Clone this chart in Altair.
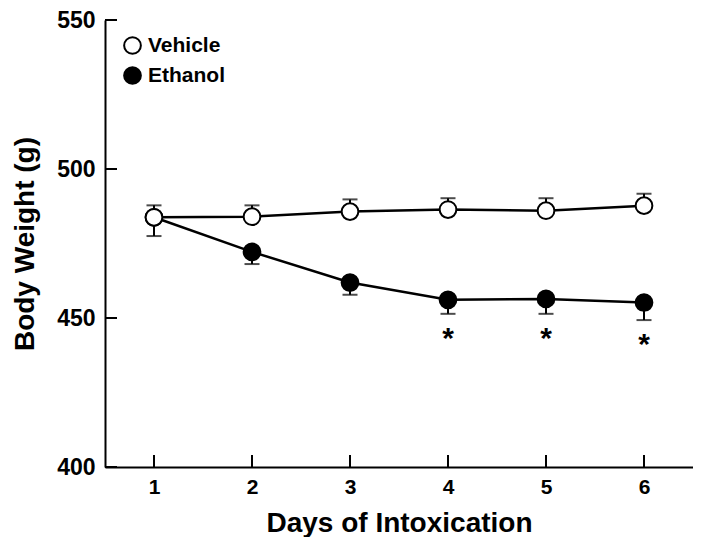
import altair as alt
import pandas as pd

days = [1, 2, 3, 4, 5, 6]
vehicle_mean = [483.8, 484.0, 485.7, 486.4, 486.0, 487.7]
vehicle_err_end = [487.8, 487.8, 489.8, 490.2, 490.2, 491.7]
ethanol_mean = [483.8, 472.2, 461.9, 456.1, 456.4, 455.2]
ethanol_err_end = [477.5, 468.1, 457.8, 451.4, 451.4, 449.3]
star_days = [4, 5, 6]
star_y = [445.0, 445.0, 442.8]
y_ticks = [400, 450, 500, 550]
groups = ["Vehicle", "Ethanol"]

rows = []
for d, m, e in zip(days, ethanol_mean, ethanol_err_end):
    rows.append({"day": d, "mean": m, "err": e, "group": "Ethanol"})
for d, m, e in zip(days, vehicle_mean, vehicle_err_end):
    rows.append({"day": d, "mean": m, "err": e, "group": "Vehicle"})
df = pd.DataFrame(rows)
stars = pd.DataFrame({"day": star_days, "y": star_y, "t": ["*"] * len(star_days)})
xt = pd.DataFrame({"day": days})
yt = pd.DataFrame({"v": y_ticks})

FONT = "Liberation Sans"
W, H = 588, 447

xscale = alt.Scale(domain=[0.5, 6.5], nice=False, zero=False)
yscale = alt.Scale(domain=[400, 550], nice=False, zero=False)

xenc = alt.X("day:Q", scale=xscale,
             axis=alt.Axis(values=days, format="d", title="Days of Intoxication",
                           grid=False, ticks=False, domainColor="black", domainWidth=2,
                           labelFont=FONT, labelFontSize=21, labelFontWeight="bold",
                           labelColor="black", labelPadding=9,
                           titleFont=FONT, titleFontSize=28, titleFontWeight="bold",
                           titleColor="black", titlePadding=12))
yenc = alt.Y("mean:Q", scale=yscale,
             axis=alt.Axis(values=y_ticks, title="Body Weight (g)",
                           grid=False, ticks=False, domainColor="black", domainWidth=2,
                           labelFont=FONT, labelFontSize=23, labelFontWeight="bold",
                           labelColor="black", labelPadding=10,
                           titleFont=FONT, titleFontSize=28, titleFontWeight="bold",
                           titleColor="black", titlePadding=17))

base = alt.Chart(df)

lines = base.mark_line(color="black", strokeWidth=2.5).encode(
    x=xenc, y=yenc, detail="group:N")

stems = base.mark_rule(color="black", strokeWidth=2).encode(
    x=alt.X("day:Q", scale=xscale), y=alt.Y("mean:Q", scale=yscale), y2="err:Q")

caps = base.mark_tick(color="black", thickness=2, size=15, orient="horizontal").encode(
    x=alt.X("day:Q", scale=xscale), y=alt.Y("err:Q", scale=yscale))

points = base.mark_point(shape="circle", filled=False, size=280, stroke="black",
                         strokeWidth=2, opacity=1).encode(
    x=alt.X("day:Q", scale=xscale), y=alt.Y("mean:Q", scale=yscale),
    fill=alt.Fill("group:N",
                  scale=alt.Scale(domain=groups, range=["white", "black"]),
                  legend=alt.Legend(title=None, orient="none", legendX=17, legendY=15,
                                    symbolType="circle", symbolSize=280,
                                    symbolStrokeColor="black", symbolStrokeWidth=2,
                                    labelFont=FONT, labelFontSize=21,
                                    labelFontWeight="bold", labelColor="black",
                                    labelOffset=5, rowPadding=5, padding=0)))

star_text = alt.Chart(stars).mark_text(font=FONT, fontSize=30, fontWeight="bold",
                                       color="black", baseline="middle", dy=6).encode(
    x=alt.X("day:Q", scale=xscale), y=alt.Y("y:Q", scale=yscale), text="t:N")

xticks = alt.Chart(xt).mark_rule(color="black", strokeWidth=2).encode(
    x=alt.X("day:Q", scale=xscale), y=alt.value(H), y2=alt.value(H - 12))

yticks = alt.Chart(yt).mark_rule(color="black", strokeWidth=2).encode(
    y=alt.Y("v:Q", scale=yscale), x=alt.value(0), x2=alt.value(12))

chart = alt.layer(lines, stems, caps, xticks, yticks, points, star_text).properties(
    width=W, height=H,
    autosize=alt.AutoSizeParams(type="none"),
    padding={"left": 97, "top": 12, "right": 0, "bottom": 70},
    background="white",
).configure_view(stroke=None)

chart.save("out.html", embed_options={"renderer": "svg", "actions": False})
